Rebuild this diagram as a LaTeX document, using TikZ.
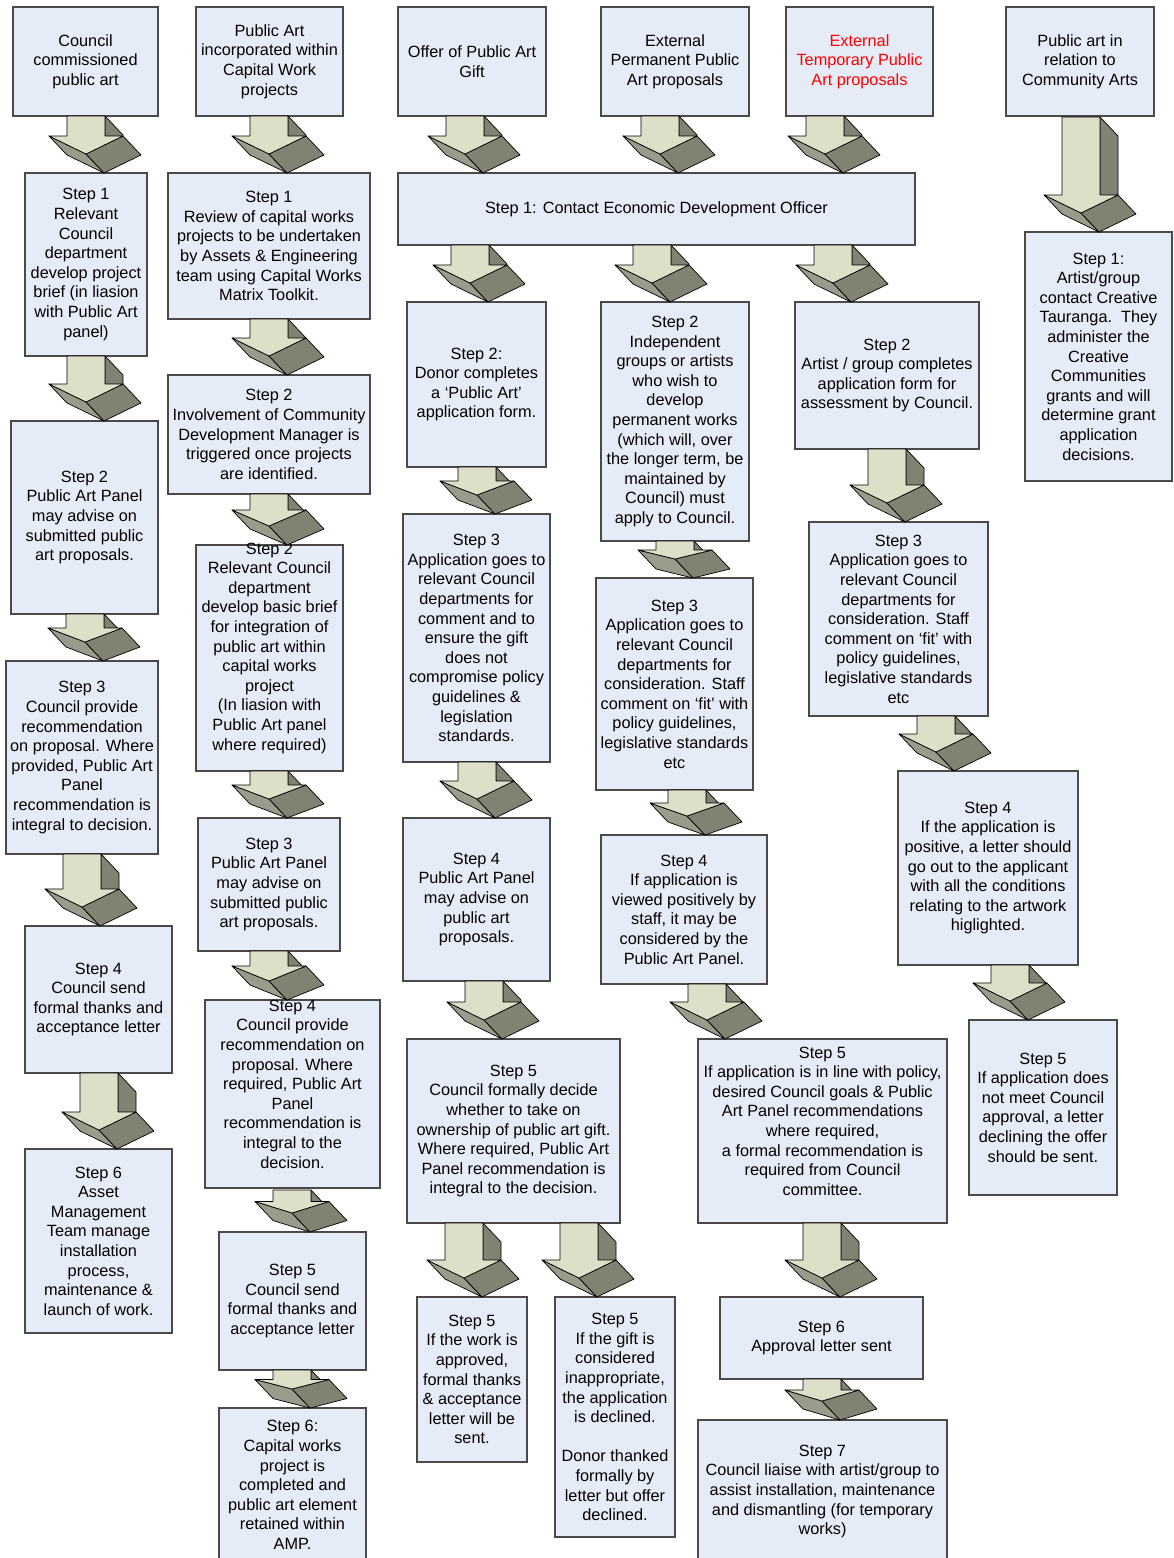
\documentclass[tikz,border=0pt]{standalone}
\usepackage{fontspec}
\setmainfont{Liberation Sans}
\usepackage{tikz}
\usetikzlibrary{calc}
\definecolor{BoxFill}{HTML}{E6ECF7}
\definecolor{BoxLine}{HTML}{4A4A4A}
\definecolor{ArrowFace}{HTML}{DDE0C9}
\definecolor{ArrowDark}{HTML}{808272}
\definecolor{ArrowMid}{HTML}{9A9B8B}
\definecolor{Alert}{HTML}{FF0000}
\tikzset{
  pbox/.style={draw=BoxLine,fill=BoxFill,line width=1.2pt,inner sep=0pt,align=center,font=\fontsize{16.3}{19.6}\selectfont},
  ptext/.style={inner sep=0pt,align=center,font=\fontsize{16.3}{19.6}\selectfont},
  arrowface/.style={draw=black,fill=ArrowFace,line width=.7pt,line join=round},
  arrowside/.style={draw=black,fill=ArrowDark,line width=.7pt,line join=round},
  arrowlow/.style={draw=black,fill=ArrowMid,line width=.7pt,line join=round}
}
% block arrow: centre x, top y, y of the back tip
\newcommand{\fatarrow}[3]{%
  \pgfmathsetmacro{\arGap}{#3-#2-19}
  \pgfmathsetmacro{\arHead}{min(18,\arGap/2)}
  \pgfmathsetmacro{\arShaft}{\arGap-\arHead}
  \begin{scope}[shift={(#1,#2)}]
    \path[arrowside] (19,0) -- (37,19) -- (37,\arShaft+19) -- (19,\arShaft) -- cycle;
    \path[arrowlow] (-37,\arShaft) -- (0,\arShaft+\arHead) -- (18,\arShaft+\arHead+19) -- (-19,\arShaft+19) -- cycle;
    \path[arrowside] (0,\arShaft+\arHead) -- (37,\arShaft) -- (55,\arShaft+19) -- (18,\arShaft+\arHead+19) -- cycle;
    \path[arrowface] (-19,0) -- (19,0) -- (19,\arShaft) -- (37,\arShaft) -- (0,\arShaft+\arHead)
      -- (-37,\arShaft) -- (-19,\arShaft) -- cycle;
  \end{scope}}
\begin{document}
\begin{tikzpicture}[x=1pt,y=-1pt]
  \useasboundingbox (0,0) rectangle (1173,1558);

  % council commissioned
  \node[pbox,minimum width=145,minimum height=109] (c1top) at (85.5,61.5) {Council\\commissioned\\public art};
  \node[pbox,minimum width=122,minimum height=183] (c1s1) at (86,264.5) {Step 1\\Relevant\\Council\\department\\develop project\\brief (in liasion\\with Public Art\\panel)};
  \node[pbox,minimum width=147,minimum height=193] (c1s2) at (84.5,517.5) {Step 2\\Public Art Panel\\may advise on\\submitted public\\art proposals.};
  \node[pbox,minimum width=152,minimum height=193] (c1s3) at (82,757.5) {Step 3\\Council provide\\recommendation\\on proposal. Where\\provided, Public Art\\Panel\\recommendation is\\integral to decision.};
  \node[pbox,minimum width=147,minimum height=147] (c1s4) at (98.5,999.5) {Step 4\\Council send\\formal thanks and\\acceptance letter};
  \node[pbox,minimum width=147,minimum height=184] (c1s6) at (98.5,1241) {Step 6\\Asset\\Management\\Team manage\\installation\\process,\\maintenance \&\\launch of work.};

  % capital works
  \node[pbox,minimum width=147,minimum height=109] (c2top) at (269.5,61.5) {Public Art\\incorporated within\\Capital Work\\projects};
  \node[pbox,minimum width=202,minimum height=146] (c2s1) at (269,246) {Step 1\\Review of capital works\\projects to be undertaken\\by Assets \& Engineering\\team using Capital Works\\Matrix Toolkit.};
  \node[pbox,minimum width=202,minimum height=119] (c2s2) at (269,434.5) {Step 2\\Involvement of Community\\Development Manager is\\triggered once projects\\are identified.};
  \node[pbox,minimum width=147,minimum height=226] (c2s2b) at (269.5,658) {};
  \node[ptext] (c2s2bT) at ($(c2s2b.center)+(0,-10)$) {Step 2\\Relevant Council\\department\\develop basic brief\\for integration of\\public art within\\capital works\\project\\(In liasion with\\Public Art panel\\where required)};
  \node[pbox,minimum width=142,minimum height=133] (c2s3) at (269,884.5) {Step 3\\Public Art Panel\\may advise on\\submitted public\\art proposals.};
  \node[pbox,minimum width=175,minimum height=188] (c2s4) at (292.5,1094) {};
  \node[ptext] (c2s4T) at ($(c2s4.center)+(0,-10)$) {Step 4\\Council provide\\recommendation on\\proposal. Where\\required, Public Art\\Panel\\recommendation is\\integral to the\\decision.};
  \node[pbox,minimum width=147,minimum height=138] (c2s5) at (292.5,1301) {Step 5\\Council send\\formal thanks and\\acceptance letter};
  \node[pbox,minimum width=147,minimum height=154] (c2s6) at (292.5,1485) {Step 6:\\Capital works\\project is\\completed and\\public art element\\retained within\\AMP.};

  % gift
  \node[pbox,minimum width=148,minimum height=109] (c3top) at (472,61.5) {Offer of Public Art\\Gift};
  \node[pbox,minimum width=517,minimum height=72] (contact) at (656.5,209) {Step 1: Contact Economic Development Officer};
  \node[pbox,minimum width=139,minimum height=165] (c3s2) at (476.5,384.5) {Step 2:\\Donor completes\\a ‘Public Art’\\application form.};
  \node[pbox,minimum width=147,minimum height=248] (c3s3) at (476.5,638) {Step 3\\Application goes to\\relevant Council\\departments for\\comment and to\\ensure the gift\\does not\\compromise policy\\guidelines \&\\legislation\\standards.};
  \node[pbox,minimum width=147,minimum height=163] (c3s4) at (476.5,899.5) {Step 4\\Public Art Panel\\may advise on\\public art\\proposals.};
  \node[pbox,minimum width=213,minimum height=184] (c3s5) at (513.5,1131) {Step 5\\Council formally decide\\whether to take on\\ownership of public art gift.\\Where required, Public Art\\Panel recommendation is\\integral to the decision.};
  \node[pbox,minimum width=110,minimum height=165] (c3s5a) at (472,1379.5) {Step 5\\If the work is\\approved,\\formal thanks\\\& acceptance\\letter will be\\sent.};
  \node[pbox,minimum width=120,minimum height=240] (c3s5b) at (615,1417) {Step 5\\If the gift is\\considered\\inappropriate,\\the application\\is declined.\\\mbox{}\\Donor thanked\\formally by\\letter but offer\\declined.};

  % permanent
  \node[pbox,minimum width=148,minimum height=109] (c4top) at (675,61.5) {External\\Permanent Public\\Art proposals};
  \node[pbox,minimum width=148,minimum height=239] (c4s2) at (675,421.5) {Step 2\\Independent\\groups or artists\\who wish to\\develop\\permanent works\\(which will, over\\the longer term, be\\maintained by\\Council) must\\apply to Council.};
  \node[pbox,minimum width=157,minimum height=212] (c4s3) at (674.5,684) {Step 3\\Application goes to\\relevant Council\\departments for\\consideration. Staff\\comment on ‘fit’ with\\policy guidelines,\\legislative standards\\etc};
  \node[pbox,minimum width=166,minimum height=149] (c4s4) at (684,909.5) {Step 4\\If application is\\viewed positively by\\staff, it may be\\considered by the\\Public Art Panel.};
  \node[pbox,minimum width=249,minimum height=184] (c4s5) at (822.5,1131) {};
  \node[ptext] (c4s5T) at ($(c4s5.center)+(0,-10)$) {Step 5\\If application is in line with policy,\\desired Council goals \& Public\\Art Panel recommendations\\where required,\\a formal recommendation is\\required from Council\\committee.};
  \node[pbox,minimum width=203,minimum height=82] (c4s6) at (821.5,1338) {Step 6\\Approval letter sent};
  \node[pbox,minimum width=249,minimum height=143] (c4s7) at (822.5,1491.5) {Step 7\\Council liaise with artist/group to\\assist installation, maintenance\\and dismantling (for temporary\\works)};

  % temporary
  \node[pbox,minimum width=147,minimum height=109,text=Alert] (c5top) at (859.5,61.5) {External\\Temporary Public\\Art proposals};
  \node[pbox,minimum width=184,minimum height=147] (c5s2) at (887,375.5) {Step 2\\Artist / group completes\\application form for\\assessment by Council.};
  \node[pbox,minimum width=179,minimum height=194] (c5s3) at (898.5,619) {Step 3\\Application goes to\\relevant Council\\departments for\\consideration. Staff\\comment on ‘fit’ with\\policy guidelines,\\legislative standards\\etc};
  \node[pbox,minimum width=180,minimum height=194] (c5s4) at (988,868) {Step 4\\If the application is\\positive, a letter should\\go out to the applicant\\with all the conditions\\relating to the artwork\\higlighted.};
  \node[pbox,minimum width=148,minimum height=175] (c5s5) at (1043,1107.5) {Step 5\\If application does\\not meet Council\\approval, a letter\\declining the offer\\should be sent.};

  % community arts
  \node[pbox,minimum width=148,minimum height=109] (c6top) at (1080,61.5) {Public art in\\relation to\\Community Arts};
  \node[pbox,minimum width=147,minimum height=249] (c6s1) at (1098.5,356.5) {Step 1:\\Artist/group\\contact Creative\\Tauranga.\ \ They\\administer the\\Creative\\Communities\\grants and will\\determine grant\\application\\decisions.};

  % arrows
  \fatarrow{86}{116}{173}
  \fatarrow{86}{356}{421}
  \fatarrow{85}{614}{661}
  \fatarrow{82}{854}{926}
  \fatarrow{99}{1073}{1149}
  \fatarrow{269}{116}{173}
  \fatarrow{269}{319}{375}
  \fatarrow{269}{494}{545}
  \fatarrow{269}{771}{818}
  \fatarrow{269}{951}{1000}
  \fatarrow{292}{1190}{1232}
  \fatarrow{292}{1370}{1408}
  \fatarrow{465}{116}{173}
  \fatarrow{470}{245}{302}
  \fatarrow{477}{467}{514}
  \fatarrow{477}{762}{818}
  \fatarrow{484}{981}{1039}
  \fatarrow{464}{1223}{1297}
  \fatarrow{579}{1223}{1297}
  \fatarrow{660}{116}{173}
  \fatarrow{652}{245}{302}
  \fatarrow{675}{541}{578}
  \fatarrow{687}{790}{835}
  \fatarrow{707}{984}{1039}
  \fatarrow{822}{1223}{1297}
  \fatarrow{822}{1379}{1420}
  \fatarrow{825}{116}{173}
  \fatarrow{833}{245}{302}
  \fatarrow{887}{449}{522}
  \fatarrow{936}{716}{771}
  \fatarrow{1010}{965}{1020}
  \fatarrow{1081}{117}{232}
\end{tikzpicture}
\end{document}
